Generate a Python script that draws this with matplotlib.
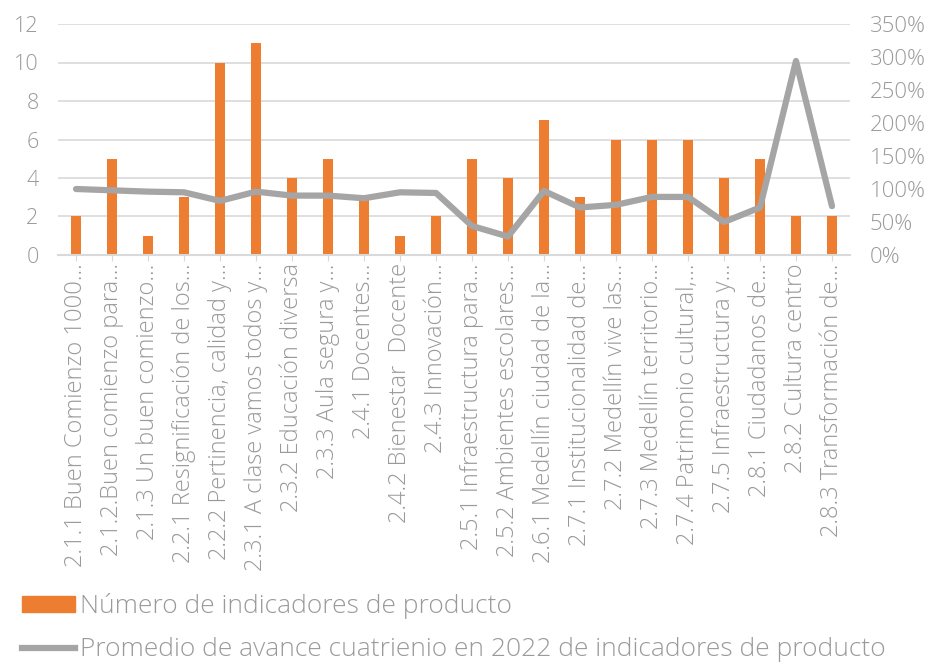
import matplotlib
matplotlib.use("Agg")
import matplotlib.pyplot as plt
from matplotlib.ticker import FuncFormatter, MultipleLocator
from matplotlib.lines import Line2D
from matplotlib.patches import Patch

categories = [
    "2.1.1 Buen Comienzo 1000…",
    "2.1.2.Buen comienzo para…",
    "2.1.3 Un buen comienzo…",
    "2.2.1 Resignificación de los…",
    "2.2.2 Pertinencia, calidad y…",
    "2.3.1 A clase vamos todos y…",
    "2.3.2 Educación diversa",
    "2.3.3 Aula segura y…",
    "2.4.1 Docentes…",
    "2.4.2 Bienestar  Docente",
    "2.4.3 Innovación…",
    "2.5.1 Infraestructura para…",
    "2.5.2 Ambientes escolares…",
    "2.6.1 Medellín ciudad de la…",
    "2.7.1 Institucionalidad de…",
    "2.7.2 Medellín vive las…",
    "2.7.3 Medellín territorio…",
    "2.7.4 Patrimonio cultural,…",
    "2.7.5 Infraestructura y…",
    "2.8.1 Ciudadanos de…",
    "2.8.2 Cultura centro",
    "2.8.3 Transformación de…",
]
num_indicadores = [2, 5, 1, 3, 10, 11, 4, 5, 3, 1, 2, 5, 4, 7, 3, 6, 6, 6, 4, 5, 2, 2]
promedio_avance = [1.00, 0.98, 0.96, 0.95, 0.82, 0.96, 0.90, 0.90, 0.86, 0.95, 0.94, 0.44,
                   0.28, 0.97, 0.72, 0.76, 0.88, 0.88, 0.50, 0.72, 2.94, 0.74]

bar_label = "Número de indicadores de producto"
line_label = "Promedio de avance cuatrienio en 2022 de indicadores de producto"

ORANGE = "#ED7D31"
GRAY = "#A5A5A5"
TEXT = "#9A9A9A"
GRID = "#D9D9D9"

plt.rcParams['font.family'] = ['Open Sans', 'DejaVu Sans']
plt.rcParams['font.weight'] = 300

fig = plt.figure(figsize=(9.38, 6.65), dpi=100)
ax = fig.add_axes([58/938, 1 - 255/665, (850-58)/938, (255-24)/665])
x = list(range(len(categories)))
ax.bar(x, num_indicadores, width=0.3, color=ORANGE, zorder=2)
ax.set_xlim(-0.5, len(categories) - 0.5)
ax.set_ylim(0, 12)
ax.yaxis.set_major_locator(MultipleLocator(2))
ax.grid(axis='y', color=GRID, linewidth=1.2, zorder=0)
ax.set_axisbelow(True)
for s in ['top', 'right', 'left']:
    ax.spines[s].set_visible(False)
ax.spines['bottom'].set_color(GRID)
ax.spines['bottom'].set_linewidth(1.5)
ax.tick_params(axis='y', length=0, labelsize=15.5, labelcolor=TEXT, pad=14)
ax.tick_params(axis='x', length=4, color=GRID, labelsize=17, labelcolor=TEXT, pad=2)
ax.set_xticks(x)
ax.set_xticklabels(categories, rotation=90)

ax2 = ax.twinx()
ax2.plot(x, promedio_avance, color=GRAY, linewidth=4.5, solid_capstyle='round', zorder=3)
ax2.set_ylim(0, 3.5)
ax2.yaxis.set_major_locator(MultipleLocator(0.5))
ax2.yaxis.set_major_formatter(FuncFormatter(lambda v, p: f"{v*100:.0f}%"))
for s in ['top', 'right', 'left', 'bottom']:
    ax2.spines[s].set_visible(False)
ax2.tick_params(axis='y', length=0, labelsize=16, labelcolor=TEXT, pad=14)

handles = [Patch(color=ORANGE, label=bar_label),
           Line2D([0], [0], color=GRAY, linewidth=4.5, label=line_label)]
leg = fig.legend(handles=handles, loc='upper left', bbox_to_anchor=(22/938, 1 - 593/665),
                 frameon=False, fontsize=19, labelcolor=TEXT, handlelength=2.0,
                 handleheight=0.55, labelspacing=0.7, handletextpad=0.2, borderaxespad=0,
                 borderpad=0)

fig.savefig("out.png", dpi=100)
